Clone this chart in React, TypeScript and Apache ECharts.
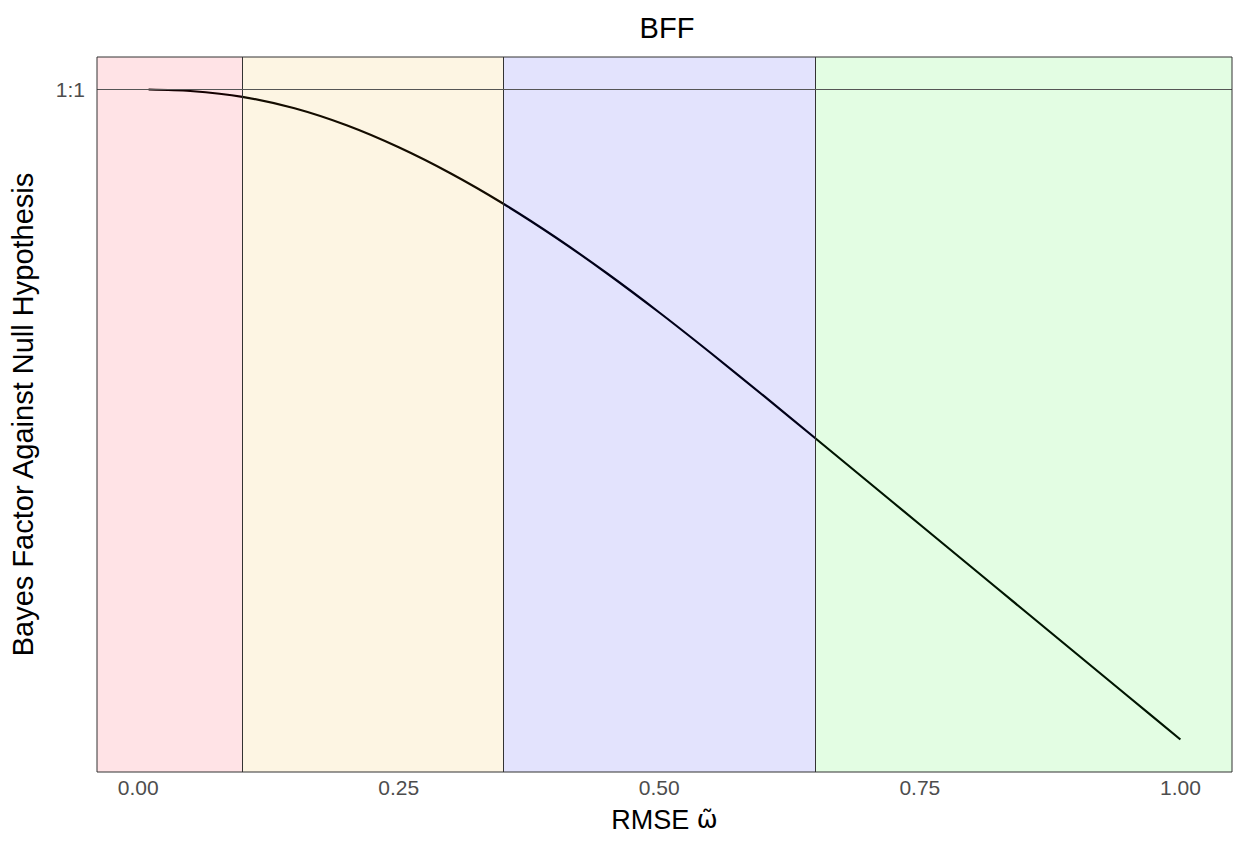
import React, { useEffect, useRef } from "react";
import * as echarts from "echarts";

// RMSE omega values and log Bayes factor (relative, 0 = 1:1)
const omega = [0.01, 0.05, 0.1, 0.15, 0.2, 0.25, 0.3, 0.35, 0.4, 0.45, 0.5, 0.55, 0.6, 0.65, 0.7, 0.75, 0.8, 0.85, 0.9, 0.95, 1.0];
const logBF = [0, -0.015, -0.073, -0.188, -0.358, -0.578, -0.84, -1.14, -1.475, -1.84, -2.23, -2.64, -3.062, -3.49, -3.92, -4.35, -4.78, -5.21, -5.64, -6.07, -6.5];

const bandBreaks = [0.1, 0.35, 0.65];
const bandColors = ["#FFE3E6", "#FDF5E3", "#E3E3FD", "#E3FDE3"];
const lineColors = ["#140000", "#140c00", "#000018", "#001400"];
const xTicks = [0, 0.25, 0.5, 0.75, 1.0];
const xTickLabels = ["0.00", "0.25", "0.50", "0.75", "1.00"];
const yTicks = [0];
const yTickLabels = ["1:1"];

const FONT = "'Liberation Sans', Arial, Helvetica, sans-serif";

export default function App() {
  const ref = useRef<HTMLDivElement>(null);
  useEffect(() => {
    if (!ref.current) return;
    const chart = echarts.init(ref.current, undefined, { renderer: "svg" });
    const xLo = Math.min(...omega), xHi = Math.max(...omega);
    const xPad = (xHi - xLo) * 0.05;
    const xMin = xLo - xPad, xMax = xHi + xPad;
    const yLo = Math.min(...logBF), yHi = Math.max(...logBF);
    const yPad = (yHi - yLo) * 0.05;
    const yMin = yLo - yPad, yMax = yHi + yPad;

    const edges = [xMin, ...bandBreaks, xMax];
    const bands = bandColors.map((c, i) => [
      { xAxis: edges[i], itemStyle: { color: c } },
      { xAxis: edges[i + 1] },
    ]);
    const pieces = lineColors.map((c, i) => ({
      gte: i === 0 ? -10 : bandBreaks[i - 1],
      lt: i === lineColors.length - 1 ? 10 : bandBreaks[i],
      color: c,
    }));

    chart.setOption({
      animation: false,
      backgroundColor: "#ffffff",
      title: {
        text: "BFF",
        left: 662,
        top: 8,
        textAlign: "center",
        textStyle: { fontFamily: FONT, fontSize: 29, fontWeight: "normal", color: "#000" },
      },
      grid: { left: 96, right: 7, top: 57, bottom: 75, show: true, borderColor: "#333333", borderWidth: 1, backgroundColor: "transparent", z: 10 },
      xAxis: {
        type: "value",
        min: xMin,
        max: xMax,
        name: "{a|RMSE }{b|\u03C9\u0303}",
        nameLocation: "middle",
        nameGap: 34,
        nameMoveOverlap: false,
        nameTextStyle: {
          fontFamily: FONT,
          fontSize: 27,
          color: "#000",
          rich: {
            a: { fontFamily: FONT, fontSize: 27, color: "#000" },
            b: { fontFamily: "'DejaVu Sans', sans-serif", fontSize: 25, color: "#000" },
          },
        },
        axisLine: { show: false },
        axisTick: { show: true, length: 5, customValues: xTicks, lineStyle: { color: "#333333", width: 1.5 } },
        axisLabel: {
          customValues: xTicks,
          margin: 5,
          fontFamily: FONT,
          fontSize: 21,
          color: "#4D4D4D",
          formatter: (v: number) => {
            const i = xTicks.findIndex((t) => Math.abs(t - v) < 1e-9);
            return i >= 0 ? xTickLabels[i] : "";
          },
        },
        splitLine: { show: false },
      },
      yAxis: {
        type: "value",
        min: yMin,
        max: yMax,
        name: "Bayes Factor Against Null Hypothesis",
        nameLocation: "middle",
        nameGap: 60,
        nameMoveOverlap: false,
        nameTextStyle: { fontFamily: FONT, fontSize: 29, color: "#000" },
        axisLine: { show: false },
        axisTick: { show: true, length: 5, customValues: yTicks, lineStyle: { color: "#333333", width: 1.5 } },
        axisLabel: {
          customValues: yTicks,
          margin: 12,
          fontFamily: FONT,
          fontSize: 21,
          color: "#4D4D4D",
          formatter: (v: number) => {
            const i = yTicks.findIndex((t) => Math.abs(t - v) < 1e-9);
            return i >= 0 ? yTickLabels[i] : "";
          },
        },
        splitLine: { show: false },
      },
      visualMap: {
        show: false,
        type: "piecewise",
        dimension: 0,
        seriesIndex: 1,
        pieces,
      },
      series: [
        {
          type: "line",
          z: 1,
          silent: true,
          data: [],
          markArea: { silent: true, data: bands },
          markLine: {
            silent: true,
            symbol: "none",
            label: { show: false },
            data: [
              ...bandBreaks.map((b) => ({ xAxis: b, lineStyle: { color: "#333333", width: 1, type: "solid" } })),
              { yAxis: 0, lineStyle: { color: "#555555", width: 1, type: "solid" } },
            ],
          },
        },
        {
          type: "line",
          z: 3,
          smooth: 0.3,
          showSymbol: false,
          data: omega.map((x, i) => [x, logBF[i]]),
          lineStyle: { width: 2.2 },
        },
      ],
    });
    return () => chart.dispose();
  }, []);
  return <div ref={ref} style={{ width: 1239, height: 847, position: "absolute", left: 0, top: 0 }} />;
}
